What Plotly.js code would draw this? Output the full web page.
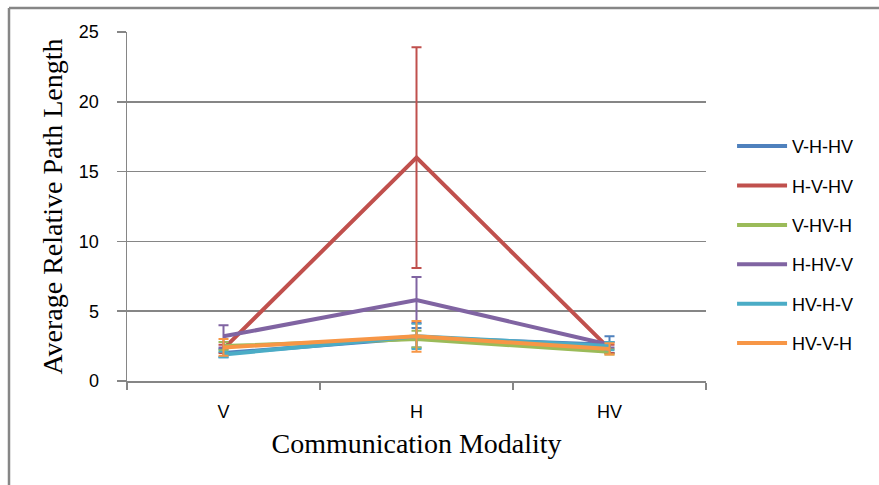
<!DOCTYPE html>
<html>
<head>
<meta charset="utf-8">
<script src="https://cdn.plot.ly/plotly-3.0.1.min.js"></script>
<style>html,body{margin:0;padding:0;background:#fff;}#chart{width:879px;height:485px;}</style>
</head>
<body>
<div id="chart"></div>
<script>
var categories = ["V", "H", "HV"];
var seriesNames = ["V-H-HV", "H-V-HV", "V-HV-H", "H-HV-V", "HV-H-V", "HV-V-H"];
var vhhv = [2.0, 3.1, 2.6];
var hvhv = [2.3, 16.0, 2.3];
var vhvh = [2.5, 3.0, 2.1];
var hhvv = [3.2, 5.8, 2.6];
var hvhv2 = [1.9, 3.2, 2.5];
var hvvh = [2.4, 3.2, 2.3];
var vhhvErr = [0.3, 0.7, 0.6];
var hvhvErr = [0.3, 7.9, 0.3];
var vhvhErr = [0.3, 0.6, 0.2];
var hhvvErr = [0.8, 1.65, 0.2];
var hvhv2Err = [0.2, 0.9, 0.3];
var hvvhErr = [0.6, 1.1, 0.4];

var seriesValues = [vhhv, hvhv, vhvh, hhvv, hvhv2, hvvh];
var seriesErrors = [vhhvErr, hvhvErr, vhvhErr, hhvvErr, hvhv2Err, hvvhErr];
var colors = ["#4F81BD", "#C0504D", "#9BBB59", "#8064A2", "#4BACC6", "#F79646"];

var traces = seriesNames.map(function(name, i){
  return {
    x: categories, y: seriesValues[i], name: name, type: "scatter", mode: "lines",
    line: {color: colors[i], width: 4},
    legendgroup: "g" + i,
    error_y: {type: "data", array: seriesErrors[i], visible: true, color: colors[i], thickness: 2, width: 5}
  };
});

var gray = "#868686";
var layout = {
  width: 879, height: 485,
  margin: {l: 127, r: 173, t: 32, b: 104, autoexpand: false},
  paper_bgcolor: "#fff", plot_bgcolor: "#fff",
  showlegend: true,
  legend: {x: 1.045, y: 0.39, xanchor: "left", yanchor: "middle",
           font: {family: "Liberation Sans, Arial, sans-serif", size: 18, color: "#000"},
           tracegroupgap: 13, traceorder: "grouped", itemwidth: 50},
  xaxis: {
    type: "category", range: [-0.5, 2.5],
    showgrid: false, zeroline: false,
    showline: true, linecolor: gray, linewidth: 1.5,
    ticks: "outside", tickson: "boundaries", ticklen: 7, tickcolor: gray, tickwidth: 1.5,
    ticklabelstandoff: 14,
    tickfont: {family: "Liberation Sans, Arial, sans-serif", size: 18, color: "#000"},
    title: {text: "Communication Modality", standoff: 12,
            font: {family: "Liberation Serif, Times New Roman, serif", size: 28, color: "#000"}}
  },
  yaxis: {
    range: [0, 25], dtick: 5, tick0: 0,
    showgrid: true, gridcolor: gray, gridwidth: 1.5,
    zeroline: false,
    showline: true, linecolor: gray, linewidth: 1.5,
    ticks: "outside", ticklen: 9, tickcolor: gray, tickwidth: 1.5,
    ticklabelstandoff: 14,
    tickfont: {family: "Liberation Sans, Arial, sans-serif", size: 18, color: "#000"},
    title: {text: "Average Relative Path Length", standoff: 8,
            font: {family: "Liberation Serif, Times New Roman, serif", size: 28, color: "#000"}}
  },
  shapes: [
    {type: "line", xref: "paper", yref: "paper", x0: -0.2038, x1: -0.2038, y0: -0.4, y1: 1.0688,
     line: {color: gray, width: 2.5}},
    {type: "line", xref: "paper", yref: "paper", x0: -0.2038, x1: 1.4, y0: 1.0688, y1: 1.0688,
     line: {color: gray, width: 2.5}}
  ]
};

Plotly.newPlot("chart", traces, layout, {displayModeBar: false, staticPlot: true});
</script>
</body>
</html>
